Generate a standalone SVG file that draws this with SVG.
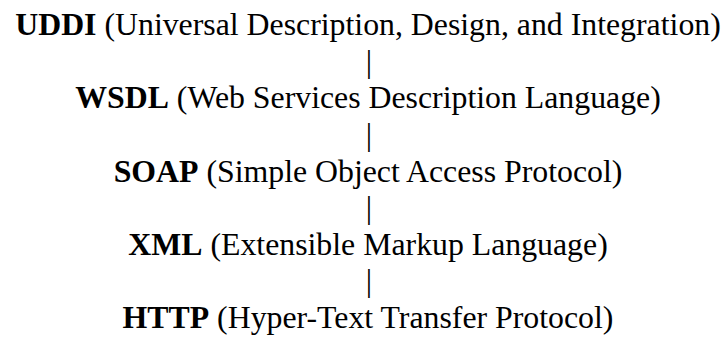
<svg xmlns="http://www.w3.org/2000/svg" width="727" height="337" viewBox="0 0 727 337">
<style>
text{font-family:"Liberation Serif","Times New Roman",serif;font-size:31.8px;fill:#000;text-anchor:middle}
.b{font-weight:bold}
</style>
<rect width="727" height="337" fill="#fff"/>
<g id="uddi"><text x="368" y="35"><tspan class="b">UDDI</tspan> (Universal Description, Design, and Integration)</text></g>
<g id="wsdl"><text x="368" y="108.3"><tspan class="b">WSDL</tspan> (Web Services Description Language)</text></g>
<g id="soap"><text x="368" y="181.5"><tspan class="b">SOAP</tspan> (Simple Object Access Protocol)</text></g>
<g id="xml"><text x="368" y="254.8"><tspan class="b">XML</tspan> (Extensible Markup Language)</text></g>
<g id="http"><text x="368" y="328"><tspan class="b">HTTP</tspan> (Hyper-Text Transfer Protocol)</text></g>
<g id="connectors">
<text x="369" y="71.7">|</text>
<text x="369" y="145">|</text>
<text x="369" y="218.2">|</text>
<text x="369" y="291.4">|</text>
</g>
</svg>
